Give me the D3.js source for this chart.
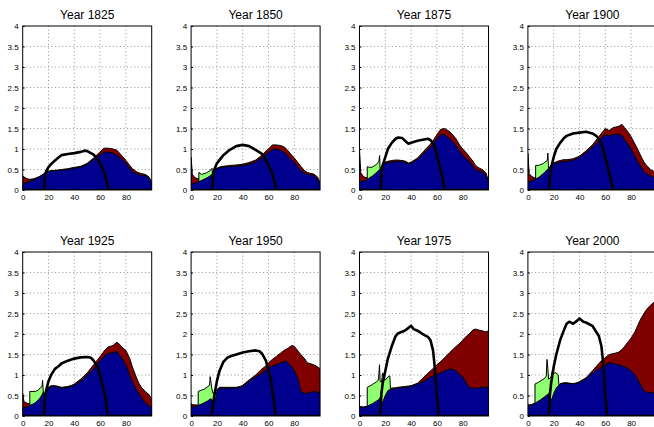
<!DOCTYPE html>
<html>
<head>
<meta charset="utf-8">
<script src="https://cdn.jsdelivr.net/npm/d3@7"></script>
<style>
	body { margin: 0; background: #fff; }
	svg { display: block; font-family: "Liberation Sans", Arial, sans-serif; }
</style>
</head>
<body>
<div id="chart"></div>
<script>
	const width = 654;
	const height = 427;

	const years = [1825, 1850, 1875, 1900, 1925, 1950, 1975, 2000];
	const xTicks = [0, 20, 40, 60, 80];
	const yTicks = [0, 0.5, 1, 1.5, 2, 2.5, 3, 3.5, 4];

	// common age grid for the blue and red profiles
	const ages = [0, 1, 3, 5, 8, 10, 13, 15, 16, 17, 18, 19, 20, 22, 25, 28, 30, 35, 38, 40,
		45, 50, 55, 58, 60, 63, 66, 70, 73, 75, 78, 80, 83, 85, 88, 90, 92, 95, 98, 100];

	// top of the blue area, one row per year
	const blueTop = [
		[0.16, 0.16, 0.18, 0.2, 0.24, 0.27, 0.32, 0.36, 0.38, 0.4, 0.43, 0.44, 0.45, 0.46, 0.47, 0.48, 0.48, 0.5, 0.52, 0.53,
			0.56, 0.62, 0.75, 0.82, 0.86, 0.92, 0.93, 0.9, 0.85, 0.8, 0.72, 0.65, 0.53, 0.45, 0.4, 0.37, 0.36, 0.36, 0.28, 0.15],
		[0.15, 0.15, 0.17, 0.19, 0.23, 0.26, 0.31, 0.35, 0.38, 0.42, 0.47, 0.5, 0.52, 0.54, 0.56, 0.57, 0.57, 0.58, 0.59, 0.6,
			0.63, 0.68, 0.8, 0.87, 0.92, 0.99, 1.0, 0.96, 0.9, 0.83, 0.73, 0.67, 0.55, 0.48, 0.41, 0.38, 0.37, 0.36, 0.26, 0.15],
		[0.2, 0.2, 0.22, 0.24, 0.3, 0.34, 0.42, 0.48, 0.5, 0.55, 0.6, 0.63, 0.65, 0.67, 0.68, 0.69, 0.7, 0.68, 0.63, 0.65,
			0.75, 0.9, 1.05, 1.17, 1.25, 1.35, 1.35, 1.25, 1.15, 1.07, 0.93, 0.85, 0.75, 0.7, 0.58, 0.5, 0.47, 0.45, 0.35, 0.2],
		[0.2, 0.2, 0.22, 0.25, 0.3, 0.35, 0.43, 0.5, 0.52, 0.55, 0.58, 0.61, 0.63, 0.65, 0.68, 0.7, 0.7, 0.72, 0.77, 0.8,
			0.9, 1.05, 1.2, 1.3, 1.35, 1.32, 1.35, 1.36, 1.33, 1.22, 1.1, 1.0, 0.82, 0.7, 0.55, 0.45, 0.4, 0.35, 0.3, 0.2],
		[0.2, 0.2, 0.22, 0.25, 0.29, 0.33, 0.42, 0.52, 0.58, 0.5, 0.58, 0.62, 0.68, 0.72, 0.72, 0.7, 0.68, 0.7, 0.72, 0.75,
			0.85, 1.0, 1.15, 1.27, 1.35, 1.45, 1.52, 1.55, 1.57, 1.48, 1.35, 1.25, 1.0, 0.85, 0.65, 0.55, 0.45, 0.32, 0.25, 0.18],
		[0.22, 0.22, 0.23, 0.25, 0.29, 0.32, 0.37, 0.42, 0.4, 0.3, 0.32, 0.45, 0.6, 0.68, 0.68, 0.68, 0.68, 0.68, 0.7, 0.72,
			0.85, 0.95, 1.05, 1.12, 1.18, 1.22, 1.25, 1.3, 1.35, 1.3, 1.2, 1.1, 0.9, 0.6, 0.55, 0.56, 0.57, 0.6, 0.58, 0.55],
		[0.2, 0.2, 0.21, 0.22, 0.27, 0.3, 0.36, 0.4, 0.45, 0.3, 0.35, 0.42, 0.5, 0.62, 0.66, 0.67, 0.68, 0.7, 0.71, 0.72,
			0.78, 0.85, 0.95, 1.0, 1.02, 1.05, 1.1, 1.15, 1.13, 1.1, 1.0, 0.95, 0.8, 0.7, 0.68, 0.68, 0.68, 0.7, 0.7, 0.7],
		[0.25, 0.25, 0.27, 0.3, 0.36, 0.4, 0.47, 0.52, 0.55, 0.3, 0.38, 0.45, 0.55, 0.68, 0.78, 0.8, 0.8, 0.78, 0.8, 0.82,
			0.9, 1.05, 1.15, 1.22, 1.25, 1.3, 1.28, 1.25, 1.22, 1.2, 1.15, 1.1, 1.0, 0.9, 0.72, 0.62, 0.58, 0.57, 0.56, 0.55],
	];

	// top of the dark red area, one row per year
	const redTop = [
		[0.35, 0.32, 0.28, 0.26, 0.27, 0.29, 0.33, 0.37, 0.39, 0.41, 0.44, 0.45, 0.46, 0.47, 0.48, 0.49, 0.5, 0.52, 0.54, 0.55,
			0.58, 0.65, 0.78, 0.87, 0.93, 1.02, 1.02, 1.0, 0.97, 0.9, 0.8, 0.72, 0.6, 0.52, 0.45, 0.42, 0.4, 0.38, 0.32, 0.18],
		[0.8, 0.38, 0.3, 0.28, 0.27, 0.28, 0.32, 0.36, 0.39, 0.43, 0.48, 0.51, 0.53, 0.56, 0.58, 0.59, 0.6, 0.61, 0.62, 0.63,
			0.67, 0.73, 0.85, 0.95, 1.0, 1.1, 1.1, 1.08, 1.03, 0.96, 0.85, 0.78, 0.66, 0.58, 0.47, 0.43, 0.41, 0.39, 0.32, 0.18],
		[1.0, 0.42, 0.33, 0.3, 0.32, 0.36, 0.44, 0.5, 0.52, 0.57, 0.63, 0.66, 0.68, 0.7, 0.72, 0.73, 0.73, 0.71, 0.66, 0.68,
			0.78, 0.95, 1.12, 1.25, 1.35, 1.48, 1.5, 1.42, 1.32, 1.24, 1.08, 1.0, 0.9, 0.82, 0.7, 0.6, 0.55, 0.5, 0.42, 0.22],
		[0.9, 0.4, 0.33, 0.3, 0.32, 0.37, 0.45, 0.52, 0.54, 0.57, 0.6, 0.63, 0.66, 0.69, 0.72, 0.74, 0.74, 0.76, 0.8, 0.83,
			0.95, 1.1, 1.3, 1.42, 1.5, 1.45, 1.52, 1.55, 1.6, 1.52, 1.4, 1.3, 1.12, 1.0, 0.8, 0.68, 0.6, 0.5, 0.45, 0.3],
		[0.55, 0.35, 0.32, 0.3, 0.31, 0.35, 0.44, 0.54, 0.6, 0.52, 0.6, 0.64, 0.7, 0.74, 0.74, 0.72, 0.7, 0.72, 0.75, 0.78,
			0.9, 1.05, 1.25, 1.37, 1.45, 1.58, 1.68, 1.72, 1.8, 1.75, 1.65, 1.6, 1.4, 1.2, 0.95, 0.8, 0.7, 0.6, 0.52, 0.4],
		[0.3, 0.28, 0.27, 0.27, 0.3, 0.33, 0.38, 0.43, 0.41, 0.32, 0.34, 0.47, 0.62, 0.7, 0.7, 0.7, 0.7, 0.7, 0.72, 0.75,
			0.88, 1.0, 1.15, 1.22, 1.3, 1.38, 1.45, 1.55, 1.62, 1.65, 1.72, 1.7, 1.58, 1.5, 1.4, 1.3, 1.28, 1.25, 1.2, 1.15],
		[0.25, 0.23, 0.22, 0.23, 0.28, 0.31, 0.37, 0.41, 0.46, 0.31, 0.36, 0.43, 0.52, 0.64, 0.68, 0.69, 0.7, 0.72, 0.73, 0.74,
			0.8, 0.95, 1.1, 1.18, 1.25, 1.33, 1.42, 1.55, 1.64, 1.7, 1.78, 1.85, 1.95, 2.0, 2.1, 2.12, 2.1, 2.08, 2.05, 2.08],
		[0.28, 0.27, 0.28, 0.31, 0.37, 0.41, 0.48, 0.53, 0.56, 0.31, 0.39, 0.46, 0.56, 0.69, 0.79, 0.81, 0.81, 0.79, 0.81, 0.84,
			0.93, 1.1, 1.28, 1.38, 1.42, 1.5, 1.52, 1.55, 1.62, 1.7, 1.82, 1.9, 2.05, 2.2, 2.4, 2.5, 2.6, 2.7, 2.78, 2.8],
	];

	// light green area (school ages), [age, top] per year
	const greenTop = [
		[[5.5, 0.2], [5.5, 0.25], [6.5, 0.25], [6.5, 0.21]],
		[[6, 0.2], [6, 0.43], [8, 0.38], [10, 0.4], [12, 0.42], [14, 0.46], [15.5, 0.5], [16.2, 0.53], [16.5, 0.4]],
		[[6, 0.26], [6, 0.57], [8, 0.55], [10, 0.56], [12, 0.6], [14, 0.65], [15, 0.7], [15.6, 0.84], [16, 0.5]],
		[[6, 0.26], [6, 0.6], [8, 0.6], [10, 0.62], [12, 0.65], [14, 0.7], [15, 0.72], [15.5, 0.9], [16, 0.52]],
		[[5.5, 0.25], [5.5, 0.6], [8, 0.6], [10, 0.6], [12, 0.63], [14, 0.7], [15, 0.72], [15.4, 0.87], [16, 0.58]],
		[[5.5, 0.25], [5.5, 0.6], [8, 0.63], [10, 0.65], [13, 0.72], [14.3, 0.75], [14.8, 0.96], [15.5, 0.8], [16, 0.68],
			[17, 0.55], [18, 0.58], [19, 0.62], [20, 0.62], [21, 0.68], [22, 0.68]],
		[[6, 0.23], [6, 0.7], [8, 0.73], [10, 0.77], [13, 0.83], [14.5, 0.87], [15, 1.0], [15.5, 1.25], [16, 0.85],
			[17, 0.82], [18, 1.05], [19, 0.9], [20, 0.88], [22, 0.95], [23.5, 0.98], [24, 0.66]],
		[[5.5, 0.3], [5.5, 0.78], [8, 0.82], [10, 0.86], [13, 0.92], [14.2, 0.97], [14.8, 1.38], [15.5, 1.15], [16, 0.9],
			[17, 0.92], [18, 0.95], [19, 1.1], [20, 1.05], [22, 1.05], [23.5, 1.0], [24, 0.77]],
	];

	// black line (labor income), [age, value] per year
	const labor = [
		[[0, 0], [16.7, 0], [17, 0.3], [18, 0.45], [20, 0.56], [22, 0.63], [25, 0.72], [28, 0.8], [30, 0.85], [35, 0.88],
			[40, 0.9], [45, 0.93], [48, 0.96], [50, 0.95], [55, 0.86], [58, 0.76], [60, 0.65], [63, 0.45], [65, 0.22], [66.5, 0], [100, 0]],
		[[0, 0], [16.5, 0], [17, 0.35], [18, 0.5], [20, 0.65], [25, 0.85], [30, 0.98], [35, 1.07], [40, 1.1], [45, 1.07],
			[50, 0.98], [55, 0.88], [58, 0.72], [60, 0.6], [63, 0.4], [65, 0.15], [66, 0], [100, 0]],
		[[0, 0], [16.5, 0], [17, 0.4], [18, 0.6], [20, 0.8], [22, 1.0], [25, 1.15], [28, 1.25], [30, 1.28], [33, 1.27],
			[36, 1.18], [38, 1.13], [40, 1.15], [45, 1.2], [50, 1.23], [53, 1.25], [55, 1.22], [58, 1.1], [60, 0.85],
			[62, 0.6], [64, 0.35], [66, 0], [100, 0]],
		[[0, 0], [16.5, 0], [17, 0.35], [18, 0.55], [20, 0.8], [22, 1.0], [25, 1.15], [28, 1.27], [30, 1.32], [35, 1.38],
			[40, 1.4], [45, 1.42], [50, 1.38], [53, 1.32], [55, 1.25], [58, 1.05], [60, 0.8], [62, 0.55], [64, 0.3], [66, 0], [100, 0]],
		[[0, 0], [16.5, 0], [17, 0.4], [18, 0.6], [20, 0.85], [22, 1.0], [25, 1.15], [28, 1.22], [30, 1.28], [35, 1.35],
			[40, 1.4], [45, 1.43], [50, 1.44], [53, 1.42], [55, 1.35], [58, 1.2], [60, 1.0], [62, 0.75], [64, 0.45],
			[65, 0.25], [66, 0], [100, 0]],
		[[0, 0], [16, 0], [17, 0.3], [18, 0.5], [20, 0.85], [22, 1.1], [25, 1.32], [28, 1.42], [30, 1.45], [35, 1.5],
			[40, 1.55], [45, 1.58], [50, 1.6], [53, 1.58], [55, 1.52], [58, 1.35], [60, 1.1], [62, 0.85], [63, 0.6],
			[64, 0.4], [65.5, 0], [100, 0]],
		[[0, 0], [16, 0], [16.5, 0.3], [17, 0.55], [18, 0.8], [20, 1.1], [22, 1.4], [25, 1.7], [28, 1.95], [30, 2.02],
			[35, 2.08], [38, 2.15], [40, 2.2], [42, 2.12], [45, 2.08], [50, 1.98], [53, 1.93], [55, 1.85], [57, 1.6],
			[58, 1.3], [59, 0.9], [60, 0.5], [61.5, 0], [100, 0]],
		[[0, 0], [16.5, 0], [17, 0.5], [18, 0.8], [20, 1.2], [22, 1.5], [25, 1.85], [28, 2.1], [30, 2.25], [32, 2.3],
			[35, 2.25], [38, 2.32], [40, 2.38], [43, 2.3], [45, 2.28], [50, 2.2], [53, 2.05], [55, 1.95], [57, 1.7],
			[58, 1.4], [59, 1.0], [60, 0.5], [61.5, 0], [100, 0]],
	];

	const pw = 129;
	const ph = 164;
	const colLeft = (c) => 22.7 + c * 168.4;
	const rowTop = [26, 252];

	const svg = d3
		.select("#chart")
		.append("svg")
		.attr("width", width)
		.attr("height", height);

	const x = d3.scaleLinear().domain([0, 100]).range([0, pw]);
	const y = d3.scaleLinear().domain([0, 4]).range([ph, 0]);

	const area = d3
		.area()
		.x((d) => x(d[0]))
		.y0(y(0))
		.y1((d) => y(d[1]));

	const line = d3
		.line()
		.x((d) => x(d[0]))
		.y((d) => y(d[1]));

	years.forEach((year, i) => {
		const g = svg
			.append("g")
			.attr("transform", `translate(${colLeft(i % 4)},${rowTop[Math.floor(i / 4)]})`);

		g.append("clipPath")
			.attr("id", "clip" + i)
			.append("rect")
			.attr("width", pw)
			.attr("height", ph);

		// dotted grid
		const grid = g.append("g").attr("class", "grid");
		grid.selectAll("line.v")
			.data(xTicks.filter((d) => d > 0))
			.enter()
			.append("line")
			.attr("x1", (d) => x(d))
			.attr("x2", (d) => x(d))
			.attr("y1", 0)
			.attr("y2", ph);
		grid.selectAll("line.h")
			.data(yTicks.filter((d) => d > 0 && d < 4))
			.enter()
			.append("line")
			.attr("x1", 0)
			.attr("x2", pw)
			.attr("y1", (d) => y(d))
			.attr("y2", (d) => y(d));
		grid.selectAll("line")
			.attr("stroke", "#777")
			.attr("stroke-width", 0.8)
			.attr("stroke-dasharray", "1,2.6");

		const plot = g.append("g").attr("clip-path", `url(#clip${i})`);

		const profile = (vals) => ages.map((a, j) => [a, vals[j]]);

		plot.append("path")
			.datum(profile(redTop[i]))
			.attr("d", area)
			.attr("fill", "#800000")
			.attr("stroke", "#000")
			.attr("stroke-width", 1);

		plot.append("path")
			.datum(greenTop[i])
			.attr("d", area)
			.attr("fill", "#8fff70")
			.attr("stroke", "#000")
			.attr("stroke-width", 1);

		plot.append("path")
			.datum(profile(blueTop[i]))
			.attr("d", area)
			.attr("fill", "#00008f")
			.attr("stroke", "#000")
			.attr("stroke-width", 1);

		plot.append("path")
			.datum(labor[i])
			.attr("d", line)
			.attr("fill", "none")
			.attr("stroke", "#000")
			.attr("stroke-width", 2.6)
			.attr("stroke-linejoin", "round");

		// box
		g.append("rect")
			.attr("width", pw)
			.attr("height", ph)
			.attr("fill", "none")
			.attr("stroke", "#000")
			.attr("stroke-width", 1);

		// axes with inward ticks
		const yAxis = d3.axisLeft(y).tickValues(yTicks).tickSize(-2).tickPadding(4).tickFormat(d3.format("~g"));
		const xAxis = d3.axisBottom(x).tickValues(xTicks).tickSize(-2).tickPadding(4);

		g.append("g").call(yAxis).call((a) => a.select(".domain").remove());
		g.append("g").attr("transform", `translate(0,${ph})`).call(xAxis).call((a) => a.select(".domain").remove());

		g.selectAll(".tick text").attr("font-size", 8).attr("fill", "#000").attr("font-family", "Liberation Sans, Arial, sans-serif");
		g.selectAll(".tick line").attr("stroke", "#000");

		g.append("text")
			.attr("x", pw / 2)
			.attr("y", -7.5)
			.attr("text-anchor", "middle")
			.attr("font-size", 12)
			.text("Year " + year);
	});
</script>
</body>
</html>
